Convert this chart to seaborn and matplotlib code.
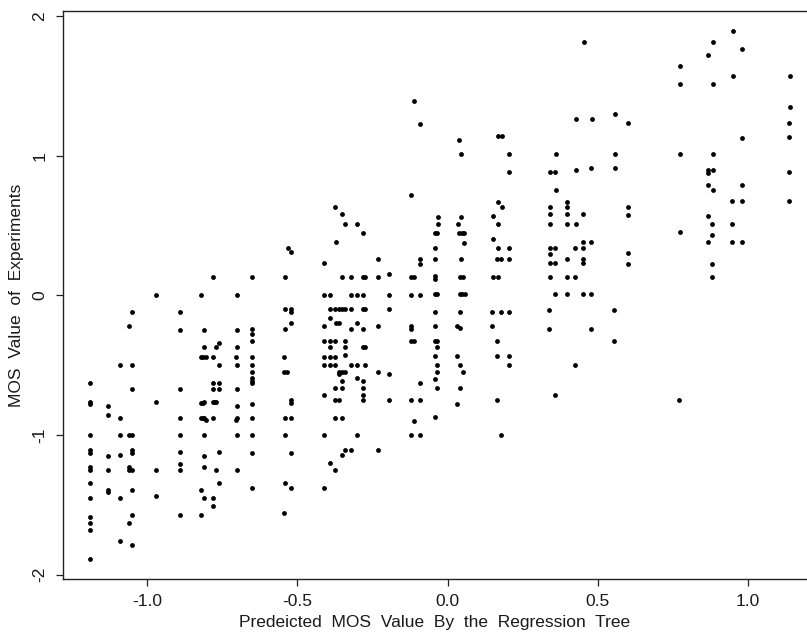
import matplotlib
matplotlib.use("Agg")
import matplotlib.pyplot as plt
import seaborn as sns
import pandas as pd

pred_a = [-0.97, -0.82, -0.70, -1.05, -0.89, -1.06, -0.89, -0.81, -0.70, -0.76,
          -0.81, -0.77, -0.70, -0.82, -0.815, -0.805, -0.78, -0.705, -1.09, -1.05,
          -0.76, -0.70, -1.19, -0.78, -0.76, -1.05, -0.89, -0.78, -0.76, -0.70,
          -0.97, -0.81, -0.78, -0.775, -0.77, -1.19, -1.19, -0.82, -0.815, -1.13,
          -0.70, -1.13, -1.09, -0.89, -0.82, -0.815, -0.81, -0.78, -0.70, -0.805,
          -0.705, -1.19, -1.09, -1.06, -1.05, -0.89, -0.81, -0.70, -1.19, -1.19,
          -1.05, -1.05, -0.89, -0.76, -1.09, -1.13, -0.81, -0.89, -1.19, -0.81,
          -1.06, -1.19, -1.13, -1.06, -1.05, -0.97, -0.89, -0.77, -0.70, -1.19,
          -0.76, -1.13, -1.05, -0.82, -1.13, -0.97, -1.19, -1.09, -0.81, -0.78,
          -0.78, -1.05, -0.89, -0.82, -1.19, -1.19, -1.06, -1.19, -1.09, -1.05,
          -1.19, -0.78]
mos_a = [0.0, 0.0, 0.0, -0.12, -0.12, -0.22, -0.25, -0.25, -0.25, -0.34,
         -0.37, -0.37, -0.37, -0.44, -0.44, -0.44, -0.44, -0.44, -0.50, -0.50,
         -0.50, -0.50, -0.63, -0.63, -0.63, -0.67, -0.67, -0.67, -0.67, -0.67,
         -0.76, -0.76, -0.76, -0.76, -0.76, -0.76, -0.78, -0.77, -0.77, -0.79,
         -0.79, -0.86, -0.88, -0.88, -0.88, -0.88, -0.88, -0.88, -0.88, -0.89,
         -0.89, -1.00, -1.00, -1.00, -1.00, -1.00, -1.00, -1.00, -1.11, -1.13,
         -1.11, -1.13, -1.12, -1.12, -1.14, -1.15, -1.15, -1.21, -1.23, -1.23,
         -1.23, -1.25, -1.25, -1.25, -1.25, -1.25, -1.25, -1.25, -1.25, -1.34,
         -1.34, -1.39, -1.39, -1.39, -1.41, -1.44, -1.45, -1.45, -1.45, -1.45,
         -1.51, -1.57, -1.57, -1.57, -1.59, -1.63, -1.63, -1.68, -1.76, -1.79,
         -1.89, 0.13]

pred_b = [-0.41, -0.39, -0.32, -0.30, -0.28, -0.195, -0.12, -0.09,
          -0.54, -0.52, -0.39, -0.375, -0.36, -0.35, -0.34, -0.32, -0.28, -0.275, -0.195,
          -0.52, -0.39, -0.52, -0.37, -0.36, -0.30, -0.41, -0.23, -0.12,
          -0.65, -0.54, -0.32, -0.28, -0.12, -0.65,
          -0.65, -0.41, -0.39, -0.375, -0.34, -0.12, -0.11,
          -0.39, -0.34, -0.28, -0.275, -0.34,
          -0.65, -0.545, -0.41, -0.39, -0.375,
          -0.65, -0.41, -0.39, -0.375, -0.32, -0.30, -0.275,
          -0.65, -0.545, -0.535, -0.36, -0.35, -0.34, -0.23,
          -0.36, -0.195, -0.65, -0.30, -0.65, -0.35, -0.28, -0.65, -0.09,
          -0.375, -0.35, -0.28, -0.41, -0.28,
          -0.52, -0.375, -0.36, -0.28, -0.195, -0.12, -0.09,
          -0.52, -0.65, -0.65, -0.54, -0.52, -0.375, -0.35, -0.11,
          -0.65, -0.54, -0.41, -0.30, -0.12, -0.09,
          -0.34, -0.32, -0.23, -0.65, -0.52, -0.35, -0.39, -0.375, -0.54,
          -0.65, -0.52, -0.41, -0.545]
mos_b = [0.0, 0.0, 0.0, 0.0, 0.0, 0.0, 0.0, 0.0,
         -0.10, -0.10, -0.10, -0.10, -0.10, -0.10, -0.10, -0.10, -0.10, -0.10, -0.10,
         -0.12, -0.16, -0.20, -0.20, -0.20, -0.20, -0.22, -0.22, -0.22,
         -0.24, -0.24, -0.24, -0.24, -0.24, -0.28,
         -0.33, -0.33, -0.33, -0.33, -0.33, -0.33, -0.33,
         -0.37, -0.37, -0.37, -0.37, -0.43,
         -0.44, -0.44, -0.44, -0.44, -0.44,
         -0.50, -0.50, -0.50, -0.50, -0.50, -0.50, -0.50,
         -0.55, -0.55, -0.55, -0.55, -0.55, -0.55, -0.55,
         -0.565, -0.565, -0.59, -0.59, -0.61, -0.61, -0.61, -0.625, -0.625,
         -0.665, -0.665, -0.665, -0.71, -0.71,
         -0.75, -0.75, -0.75, -0.75, -0.75, -0.75, -0.75,
         -0.77, -0.78, -0.88, -0.88, -0.88, -0.88, -0.88, -0.90,
         -1.00, -1.00, -1.00, -1.00, -1.00, -1.00,
         -1.11, -1.11, -1.11, -1.13, -1.13, -1.14, -1.20, -1.25, -1.34,
         -1.38, -1.38, -1.38, -1.56]

pred_c = [-0.11, -0.09, -0.12, -0.375, -0.35, -0.34, -0.30, -0.28, -0.37, -0.53,
          -0.52, -0.23, -0.09, -0.09, -0.41, -0.195,
          -0.65, -0.54, -0.35, -0.32, -0.28, -0.275, -0.23, -0.12, -0.11]
mos_c = [1.39, 1.23, 0.72, 0.63, 0.58, 0.51, 0.51, 0.45, 0.38, 0.34,
         0.31, 0.26, 0.26, 0.225, 0.23, 0.15,
         0.13, 0.13, 0.13, 0.13, 0.13, 0.13, 0.13, 0.13, 0.13]

pred_d = [0.455, 0.558, 0.428, 0.48, 0.169, 0.18, 0.038, 0.044, 0.206, 0.361,
          0.558, 0.479, 0.558, 0.428, 0.206, 0.341, 0.359, 0.361, 0.168, 0.397,
          0.18, 0.341, 0.397, 0.341, 0.397, 0.452, 0.152, -0.031, 0.044,
          -0.031, 0.036, 0.168, 0.341, 0.397, 0.427,
          -0.043, -0.036, 0.038, 0.049, 0.056, 0.152, 0.452, 0.478, 0.056,
          -0.042, 0.168, 0.204, 0.341, 0.359, 0.425, 0.452, 0.341,
          -0.04, 0.044, 0.164, 0.177, 0.204, 0.397, 0.452, 0.341, 0.359, 0.452,
          -0.04, -0.04, 0.042, 0.053, 0.15, 0.168, 0.341, 0.397, 0.425,
          -0.043, -0.034, 0.042, 0.049, 0.057, 0.359, 0.397, 0.452, 0.478]
mos_d = [1.815, 1.30, 1.26, 1.26, 1.14, 1.14, 1.11, 1.01, 1.01, 1.01,
         1.01, 0.91, 0.91, 0.895, 0.885, 0.885, 0.885, 0.755, 0.67, 0.67,
         0.63, 0.63, 0.63, 0.58, 0.58, 0.58, 0.57, 0.56, 0.56,
         0.51, 0.51, 0.51, 0.51, 0.51, 0.51,
         0.45, 0.45, 0.45, 0.45, 0.45, 0.405, 0.38, 0.38, 0.375,
         0.34, 0.34, 0.34, 0.34, 0.34, 0.34, 0.34, 0.295,
         0.26, 0.26, 0.26, 0.26, 0.26, 0.26, 0.26, 0.23, 0.23, 0.235,
         0.14, 0.12, 0.135, 0.135, 0.135, 0.135, 0.135, 0.135, 0.135,
         0.01, 0.01, 0.01, 0.01, 0.01, 0.01, 0.01, 0.01, 0.01]

pred_e = [0.339, 0.554, -0.042, 0.042, 0.149, 0.178, 0.204, -0.042, 0.033, 0.149,
          0.042, 0.339, 0.477, -0.043, -0.034, 0.166, 0.554, -0.034,
          -0.042, 0.033, 0.166, 0.204, -0.034, 0.042, 0.204, 0.425,
          -0.034, 0.053, -0.043, -0.034, 0.042, 0.358, 0.165, 0.033, -0.043, 0.177]
mos_e = [-0.105, -0.105, -0.12, -0.12, -0.12, -0.12, -0.12, -0.217, -0.217, -0.217,
         -0.236, -0.243, -0.243, -0.33, -0.33, -0.33, -0.33, -0.37,
         -0.436, -0.436, -0.436, -0.436, -0.496, -0.496, -0.496, -0.496,
         -0.55, -0.55, -0.596, -0.665, -0.665, -0.71, -0.75, -0.775, -0.873, -1.00]

pred_f = [0.951, 0.882, 0.98, 0.868, 0.775, 0.951, 1.139, 0.775, 0.882, 1.139,
          0.60, 1.138, 1.138, 0.98, 0.775, 0.882, 0.866, 0.882, 1.138, 0.866,
          0.866, 0.98, 0.882, 0.948, 0.98, 1.137, 0.60, 0.60, 0.866, 0.881,
          0.948, 0.775, 0.881, 0.866, 0.948, 0.98, 0.60, 0.60, 0.881, 0.881, 0.771]
mos_f = [1.89, 1.815, 1.767, 1.719, 1.64, 1.571, 1.571, 1.514, 1.514, 1.347,
         1.234, 1.234, 1.137, 1.125, 1.01, 1.01, 0.898, 0.898, 0.884, 0.874,
         0.788, 0.788, 0.755, 0.674, 0.674, 0.674, 0.631, 0.578, 0.566, 0.509,
         0.509, 0.452, 0.435, 0.382, 0.382, 0.382, 0.306, 0.227, 0.227, 0.134, -0.749]

x_ticks = [-1.0, -0.5, 0.0, 0.5, 1.0]
x_ticklabels = ["-1.0", "-0.5", "0.0", "0.5", "1.0"]
y_ticks = [-2, -1, 0, 1, 2]
y_ticklabels = ["-2", "-1", "0", "1", "2"]
x_label = "Predeicted  MOS  Value  By  the  Regression  Tree"
y_label = "MOS  Value  of  Experiments"

df = pd.DataFrame({
    "pred": pred_a + pred_b + pred_c + pred_d + pred_e + pred_f,
    "mos": mos_a + mos_b + mos_c + mos_d + mos_e + mos_f,
})

sns.set_style("ticks")
plt.rcParams["font.family"] = ["Liberation Sans", "DejaVu Sans"]
plt.rcParams["axes.unicode_minus"] = False

fig = plt.figure(figsize=(8.07, 6.42), dpi=100)
ax = fig.add_axes([0.0777, 0.0981, 0.9223, 0.8848])
sns.scatterplot(data=df, x="pred", y="mos", color="black", s=12,
                linewidth=0, marker="o", ax=ax, legend=False)

ax.set_xlim(-1.2805, 1.1963)
ax.set_ylim(-2.031, 2.0365)
ax.set_xticks(x_ticks)
ax.set_xticklabels(x_ticklabels, fontsize=12.5, color="#1a1a1a")
ax.set_yticks(y_ticks)
ax.set_yticklabels(y_ticklabels, fontsize=12.5, color="#1a1a1a",
                   rotation=90, va="center")
ax.tick_params(axis="both", direction="out", length=5, width=0.9,
               color="#222222", pad=6)
ax.set_xlabel(x_label, fontsize=12.5, color="#1a1a1a", labelpad=4)
ax.set_ylabel(y_label, fontsize=12.5, color="#1a1a1a", labelpad=6)
for side in ["left", "bottom", "top"]:
    ax.spines[side].set_color("#222222")
    ax.spines[side].set_linewidth(1.0)
ax.spines["right"].set_visible(False)

fig.savefig("out.png", dpi=100)
